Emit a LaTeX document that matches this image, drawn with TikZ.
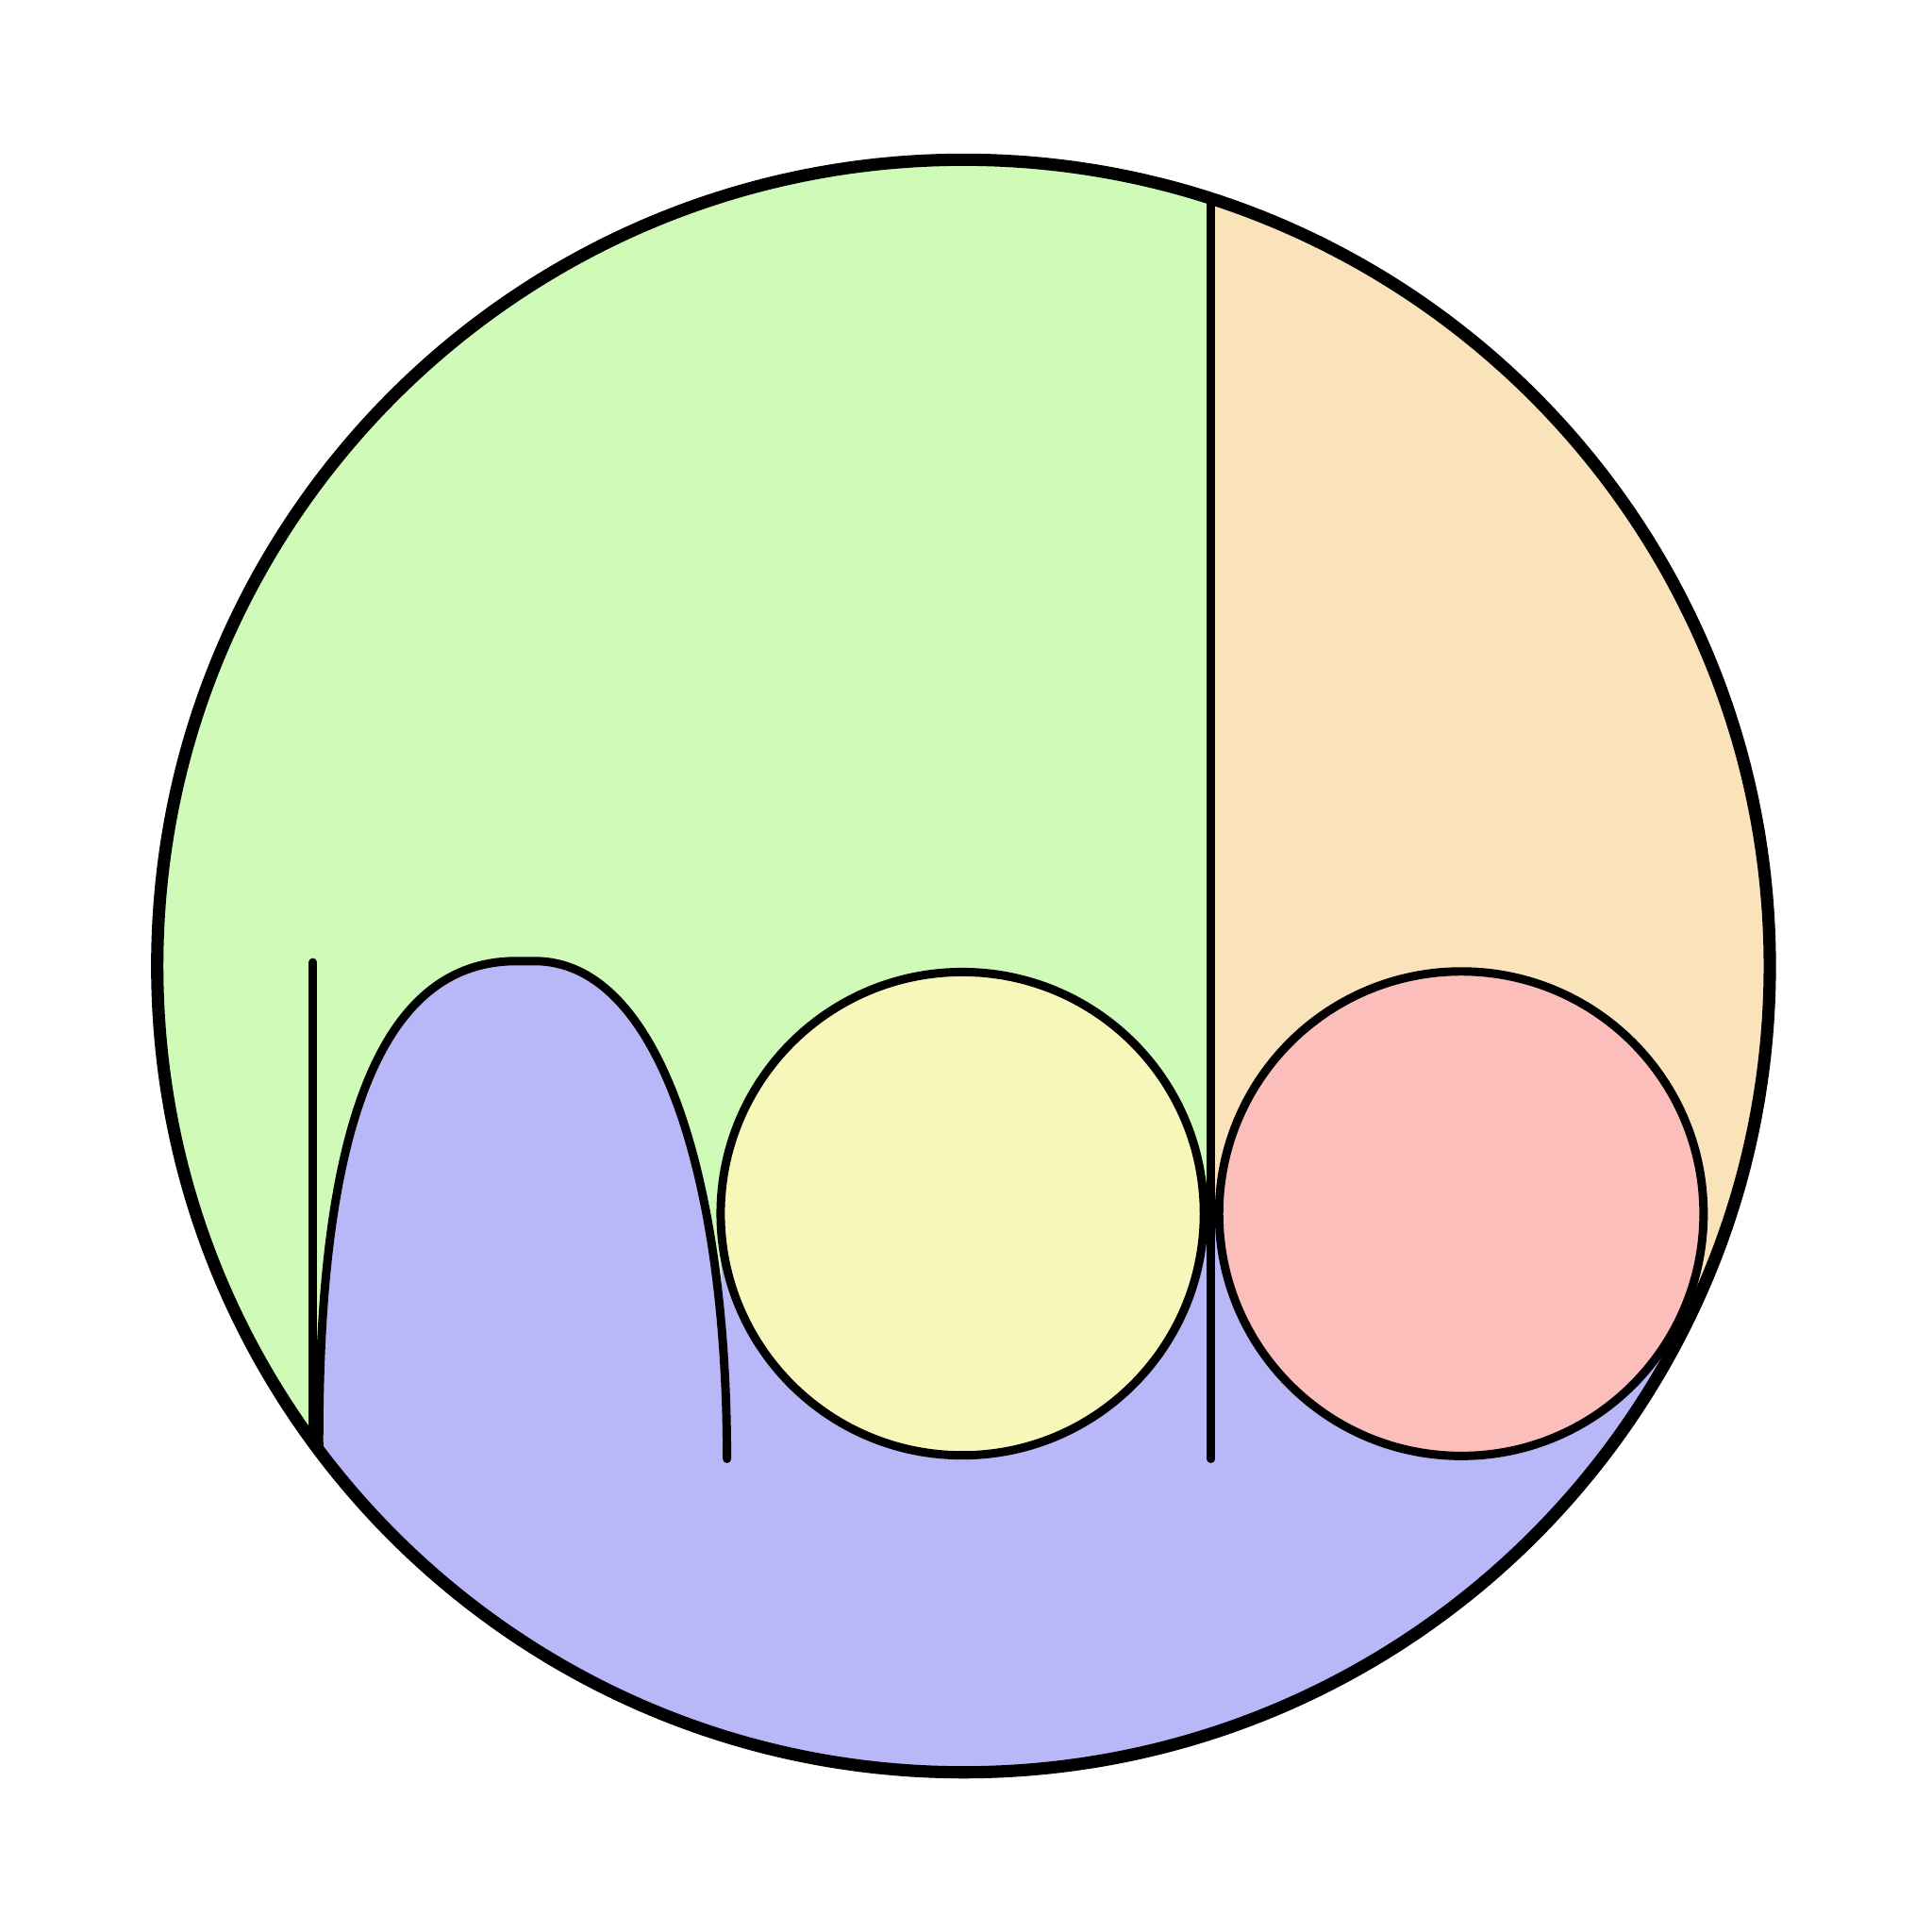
\documentclass[tikz,border=0pt]{standalone}
\usetikzlibrary{calc}
\definecolor{cgreen}{HTML}{D0FAB8}
\definecolor{corange}{HTML}{FAE3BA}
\definecolor{cyellow}{HTML}{F7F7BA}
\definecolor{cred}{HTML}{FBBEBA}
\definecolor{cblue}{HTML}{B8B8F8}
\tikzset{
  outline/.style={line width=2.85pt, draw=black},
  stroke/.style={line width=1.95pt, draw=black, line cap=round, line join=round},
}
\begin{document}
\begin{tikzpicture}[x=0.01cm, y=0.01cm, yscale=-1]
\useasboundingbox (0,0) rectangle (1568,1568);
\coordinate (C) at (782,784);
\coordinate (Y) at (781,985);
\coordinate (R) at (1186,985);
\begin{scope}
  \clip (C) circle[radius=6.54cm];
  \fill[cgreen] (0,0) rectangle (1568,1568);
  \fill[corange] (983,0) rectangle (1568,1090);
  % lower band
  \fill[cblue] (584,985) -- (983,985) -- (990,985)
     arc[start angle=180, end angle=26.45, radius=1.965cm]
     -- ($(C)+(26.45:6.54cm)$)
     arc[start angle=26.45, end angle=143.2, radius=6.54cm]
     -- (590,1184) -- cycle;
  % inside of the arch (overlapping the band, so no seam shows)
  \fill[cblue] (259,1175) .. controls (258,915) and (309,780) .. (419,780)
     -- (434,780) .. controls (534,780) and (590,954) .. (590,1184)
     -- (590,1320) -- (259,1320) -- cycle;
\end{scope}
% stem of first letter
\draw[stroke] (254,781) -- (254,1168);
% arch
\draw[stroke] (259,1175) .. controls (258,915) and (309,780) .. (419,780)
   -- (434,780) .. controls (534,780) and (590,954) .. (590,1184);
% yellow circle
\filldraw[stroke, fill=cyellow] (Y) circle[radius=1.96cm];
% b stem
\draw[stroke] (983,166) -- (983,1184);
% red circle
\filldraw[stroke, fill=cred] (R) circle[radius=1.965cm];
% outer circle
\draw[outline] (C) circle[radius=6.54cm];
\end{tikzpicture}
\end{document}
